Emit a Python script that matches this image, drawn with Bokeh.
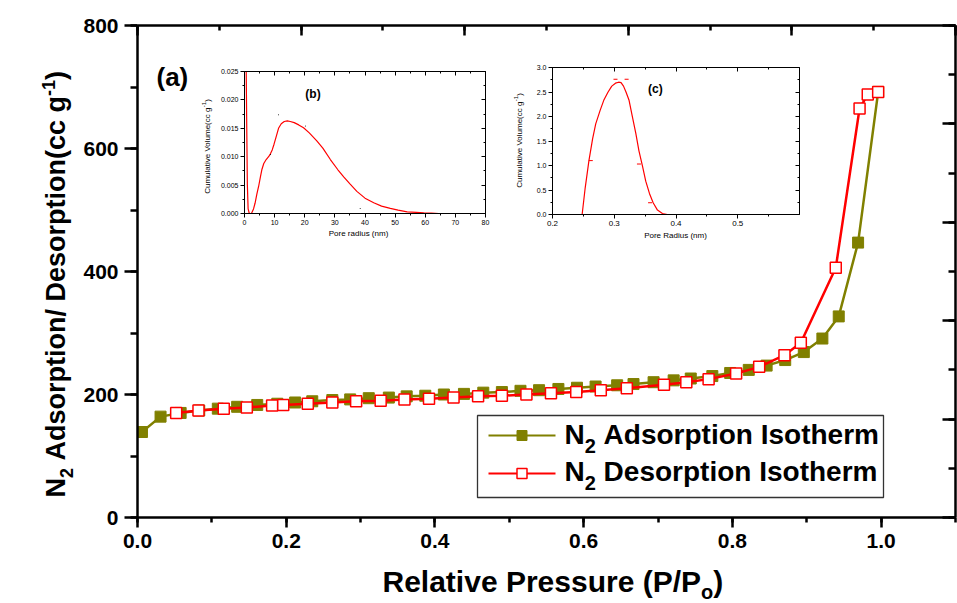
from bokeh.plotting import figure
from bokeh.models import (LinearAxis, SingleIntervalTicker, Range1d, PrintfTickFormatter)
from bokeh.embed import file_html
from bokeh.resources import INLINE
from bokeh.core.properties import value

# ---------------- data ----------------
ads_pressure = [0.006, 0.031, 0.058, 0.083, 0.108, 0.134, 0.161, 0.188, 0.212, 0.235,
                0.262, 0.286, 0.311, 0.338, 0.362, 0.387, 0.412, 0.439, 0.465, 0.490,
                0.515, 0.540, 0.566, 0.591, 0.616, 0.645, 0.667, 0.694, 0.721, 0.744,
                0.773, 0.797, 0.822, 0.846, 0.871, 0.896, 0.921, 0.943, 0.969, 0.996]
ads_volume = [139, 164, 170, 174, 177, 180, 183, 185, 187, 189,
              191, 192, 194, 195, 197, 198, 200, 201, 203, 204,
              206, 207, 209, 211, 213, 215, 217, 220, 223, 226,
              230, 235, 240, 247, 256, 269, 291, 327, 447, 692]

des_pressure = [0.052, 0.082, 0.116, 0.147, 0.181, 0.196, 0.229, 0.262, 0.294, 0.327,
                0.359, 0.392, 0.425, 0.458, 0.490, 0.523, 0.556, 0.590, 0.623, 0.658,
                0.708, 0.738, 0.768, 0.805, 0.836, 0.870, 0.892, 0.939, 0.971, 0.982, 0.996]
des_volume = [170, 174, 177, 179, 182, 183, 185, 187, 189, 190,
              192, 193, 195, 197, 198, 200, 202, 204, 207, 210,
              216, 220, 225, 234, 245, 264, 284, 406, 665, 688, 692]

# inset (b): pore size distribution, radius in nm
b_radius = [0.55, 0.75, 0.95, 1.2, 1.6, 2.3, 3.0, 3.5, 4.1, 4.7, 5.3, 5.8, 6.4, 7.2,
            8.0, 8.6, 9.2, 9.8, 10.5, 11.3, 12.2, 13.2, 14.2, 15.2, 16.5, 18.0, 19.6,
            21.5, 24.0, 26.0, 28.5, 31.0, 33.0, 35.0, 37.3, 40.0, 42.9, 45.5, 48.4,
            51.0, 54.0, 57.0, 59.5, 62.0, 64.5]
b_volume = [0.0262, 0.0150, 0.0050, 0.0008, 0.0000, 0.0000, 0.0008, 0.0018, 0.0034,
            0.0048, 0.0065, 0.0078, 0.0088, 0.0095, 0.0100, 0.0105, 0.0112, 0.0122,
            0.0135, 0.0150, 0.0158, 0.0162, 0.0163, 0.0162, 0.0160, 0.0156, 0.0151,
            0.0142, 0.0128, 0.0115, 0.0095, 0.0077, 0.0064, 0.0052, 0.0039, 0.0027,
            0.0019, 0.0013, 0.0009, 0.0006, 0.0003, 0.0002, 0.0001, 0.00005, 0.0]
b_pts_radius = [8.6, 11.3, 20.2, 38.4]
b_pts_volume = [0.0104, 0.0174, 0.0154, 0.0009]

# inset (c): micropore distribution, radius in nm
c_radius = [0.248, 0.253, 0.259, 0.265, 0.270, 0.277, 0.283, 0.290, 0.296, 0.302,
            0.307, 0.311, 0.315, 0.319, 0.324, 0.329, 0.335, 0.340, 0.346, 0.351,
            0.357, 0.363, 0.370, 0.378, 0.386, 0.400, 0.450, 0.500]
c_volume = [0.0, 0.55, 1.10, 1.55, 1.85, 2.12, 2.33, 2.50, 2.62, 2.68,
            2.70, 2.69, 2.62, 2.50, 2.33, 2.02, 1.65, 1.30, 0.97, 0.68,
            0.43, 0.24, 0.09, 0.02, 0.0, 0.0, 0.0, 0.0]
c_pts_radius = [0.262, 0.302, 0.320, 0.340, 0.358]
c_pts_volume = [1.10, 2.76, 2.76, 1.03, 0.24]

# texts (piece, font size px, baseline shift px: + = subscript)
x_title = [("Relative Pressure (P/P", 30, 0), ("o", 20, 7), (")", 30, 0)]
y_title = [("N", 27, 0), ("2", 18, 7), (" Adsorption/ Desorption(cc g", 27, 0),
           ("-1", 18, -11), (")", 27, 0)]
leg_ads = [("N", 28, 0), ("2", 20, 8), (" Adsorption Isotherm", 28, 0)]
leg_des = [("N", 28, 0), ("2", 20, 8), (" Desorption Isotherm", 28, 0)]
panel_a = [("(a)", 26, 0)]
inset_ylabel = [("Cumulative Volume(cc g", 8, 0), ("-1", 6, -4), (")", 8, 0)]
b_xlabel = [("Pore radius (nm)", 8, 0)]
c_xlabel = [("Pore Radius (nm)", 8, 0)]

FONT = "Liberation Sans"
OLIVE = "#808000"
RED = "#ff0000"
BASE_K = 0.38   # the svg text sits this fraction of its size below the given baseline

# ---------------- geometry of the main frame (pixels) ----------------
FL, FT, FW, FH = 137, 25, 818, 492
X0, X1, Y0, Y1 = 0.0, 1.1, 0.0, 800.0


def dx(px):
    return X0 + (px - FL) / FW * (X1 - X0)


def dy(py):
    return Y0 + (FT + FH - py) / FH * (Y1 - Y0)


WB = {' ': 278, '(': 333, ')': 333, '/': 278, '-': 333, '.': 278, 'A': 722, 'D': 722,
      'I': 278, 'N': 722, 'P': 667, 'R': 722, 'a': 556, 'c': 556, 'd': 611, 'e': 556,
      'g': 611, 'h': 611, 'i': 278, 'l': 278, 'm': 889, 'n': 611, 'o': 611, 'p': 611,
      'r': 389, 's': 556, 't': 333, 'u': 611, 'v': 556}
WR = {' ': 278, '(': 333, ')': 333, '-': 333, 'C': 722, 'V': 667, 'P': 667, 'R': 722,
      'a': 556, 'c': 500, 'd': 556, 'e': 556, 'g': 556, 'i': 222, 'l': 222, 'm': 833,
      'n': 556, 'o': 556, 'r': 333, 's': 500, 't': 278, 'u': 556, 'v': 500}


def tw(s, size, bold=True):
    table = WB if bold else WR
    return sum(table.get(c, 556) for c in s) * size / 1000.0


def total_w(pieces, bold=True):
    return sum(tw(t, s, bold) for t, s, _ in pieces)


def style_axis(ax, lw, maj_out, maj_in, min_out, min_in, size=None, bold=True, standoff=6):
    ax.axis_line_width = lw
    ax.axis_line_color = "black"
    ax.major_tick_line_width = lw
    ax.minor_tick_line_width = lw
    ax.major_tick_line_color = "black"
    ax.minor_tick_line_color = "black"
    ax.major_tick_out = maj_out
    ax.major_tick_in = maj_in
    ax.minor_tick_out = min_out
    ax.minor_tick_in = min_in
    if size is None:
        ax.major_label_text_font_size = "0px"
        ax.major_label_text_color = None
        ax.major_label_standoff = 0
    else:
        ax.major_label_text_font = FONT
        ax.major_label_text_font_size = size
        ax.major_label_text_font_style = "bold" if bold else "normal"
        ax.major_label_text_color = "black"
        ax.major_label_standoff = standoff


# ---------------- main figure ----------------
p = figure(width=957, height=603, x_range=Range1d(X0, X1), y_range=Range1d(Y0, Y1),
           output_backend="svg", toolbar_location=None,
           min_border_left=FL, min_border_right=957 - FL - FW, min_border_top=FT,
           min_border_bottom=603 - FT - FH)
p.grid.visible = False
p.outline_line_color = None
p.background_fill_color = "white"
p.border_fill_color = "white"

xa = p.xaxis[0]
xa.ticker = SingleIntervalTicker(interval=0.2, num_minor_ticks=2)
xa.formatter = PrintfTickFormatter(format="%.1f")
style_axis(xa, 2.5, 10, 0, 5, 0, "21px", standoff=6)

ya = p.yaxis[0]
ya.ticker = SingleIntervalTicker(interval=200, num_minor_ticks=2)
ya.formatter = PrintfTickFormatter(format="%d")
style_axis(ya, 2.5, 13, 0, 7, 0, "21px", standoff=6)

top = LinearAxis(ticker=SingleIntervalTicker(interval=0.22, num_minor_ticks=2))
style_axis(top, 2.5, 0, 10, 0, 5)
p.add_layout(top, "above")
right = LinearAxis(ticker=SingleIntervalTicker(interval=160, num_minor_ticks=2))
style_axis(right, 2.5, 0, 13, 0, 7)
p.add_layout(right, "right")

p.line(ads_pressure, ads_volume, line_color=OLIVE, line_width=2.5)
p.scatter(ads_pressure, ads_volume, marker="square", size=11,
          fill_color=OLIVE, line_color=OLIVE)
p.line(des_pressure, des_volume, line_color=RED, line_width=2.5)
p.scatter(des_pressure, des_volume, marker="square", size=11,
          fill_color="white", line_color=RED, line_width=1.5)

# legend box and samples (text goes in the overlay)
p.quad(left=[dx(477)], right=[dx(883)], top=[dy(415)], bottom=[dy(497)],
       fill_color="white", line_color="#333333", line_width=1.3)
leg_y = {"ads": 435, "des": 473}
p.line([dx(488), dx(555)], [dy(leg_y["ads"])] * 2, line_color=OLIVE, line_width=2)
p.scatter([dx(521.5)], [dy(leg_y["ads"])], marker="square", size=10,
          fill_color=OLIVE, line_color=OLIVE)
p.line([dx(488), dx(555)], [dy(leg_y["des"])] * 2, line_color=RED, line_width=2)
p.scatter([dx(521.5)], [dy(leg_y["des"])], marker="square", size=10,
          fill_color="white", line_color=RED, line_width=1.5)
p.styles = {"position": "absolute", "left": "0px", "top": "0px"}

# ---------------- inset (b) ----------------
pb = figure(width=54 + 241 + 10, height=21 + 142 + 32, x_range=Range1d(0, 80),
            y_range=Range1d(0, 0.025), output_backend="svg", toolbar_location=None,
            min_border_left=54, min_border_top=21, min_border_bottom=32, min_border_right=10)
pb.grid.visible = False
pb.outline_line_color = None
pb.background_fill_color = "white"
pb.border_fill_alpha = 0.0
bxa = pb.xaxis[0]
bxa.ticker = SingleIntervalTicker(interval=10, num_minor_ticks=2)
bxa.formatter = PrintfTickFormatter(format="%d")
style_axis(bxa, 1, 4, 0, 2, 0, "7px", bold=False, standoff=2)
bya = pb.yaxis[0]
bya.ticker = SingleIntervalTicker(interval=0.005, num_minor_ticks=2)
bya.formatter = PrintfTickFormatter(format="%.3f")
style_axis(bya, 1, 4, 0, 2, 0, "7px", bold=False, standoff=2)
for loc, tick in (("above", SingleIntervalTicker(interval=10, num_minor_ticks=2)),
                  ("right", SingleIntervalTicker(interval=0.005, num_minor_ticks=2))):
    a = LinearAxis(ticker=tick)
    style_axis(a, 1, 0, 4, 0, 2)
    pb.add_layout(a, loc)
pb.line(b_radius, b_volume, line_color=RED, line_width=1.2)
pb.scatter(b_pts_radius, b_pts_volume, marker="dot", size=4,
           line_color="black", fill_color="black")
pb.text(x=[20.2], y=[0.0211], text=["(b)"], text_font=value(FONT),
        text_font_style=value("bold"), text_font_size=value("12px"),
        text_baseline=value("alphabetic"))
pb.styles = {"position": "absolute", "left": "190px", "top": "50px"}

# ---------------- inset (c) ----------------
pc = figure(width=52 + 247 + 10, height=17 + 147 + 30, x_range=Range1d(0.2, 0.6),
            y_range=Range1d(0, 3.0), output_backend="svg", toolbar_location=None,
            min_border_left=52, min_border_top=17, min_border_bottom=30, min_border_right=10)
pc.grid.visible = False
pc.outline_line_color = None
pc.background_fill_color = "white"
pc.border_fill_alpha = 0.0
cxa = pc.xaxis[0]
cxa.ticker = SingleIntervalTicker(interval=0.1, num_minor_ticks=2)
cxa.formatter = PrintfTickFormatter(format="%.1f")
style_axis(cxa, 1, 4, 0, 2, 0, "8px", bold=False, standoff=2)
cya = pc.yaxis[0]
cya.ticker = SingleIntervalTicker(interval=0.5, num_minor_ticks=2)
cya.formatter = PrintfTickFormatter(format="%.1f")
style_axis(cya, 1, 4, 0, 2, 0, "7px", bold=False, standoff=2)
for loc, tick in (("above", SingleIntervalTicker(interval=0.1, num_minor_ticks=2)),
                  ("right", SingleIntervalTicker(interval=0.5, num_minor_ticks=2))):
    a = LinearAxis(ticker=tick)
    style_axis(a, 1, 0, 4, 0, 2)
    pc.add_layout(a, loc)
pc.line(c_radius, c_volume, line_color=RED, line_width=1.2)
pc.scatter(c_pts_radius, c_pts_volume, marker="dash", size=4, line_color=RED)
pc.text(x=[0.3546], y=[2.56], text=["(c)"], text_font=value(FONT),
        text_font_style=value("bold"), text_font_size=value("12px"),
        text_baseline=value("alphabetic"))
pc.styles = {"position": "absolute", "left": "500px", "top": "50px"}

# ---------------- text overlay (pixel coordinates, y downwards) ----------------
ov = figure(title=None, width=957, height=603, x_range=Range1d(0, 957),
            y_range=Range1d(603, 0), output_backend="svg", toolbar_location=None,
            min_border=0, x_axis_location=None, y_axis_location=None)
ov.grid.visible = False
ov.outline_line_color = None
ov.background_fill_alpha = 0.0
ov.border_fill_alpha = 0.0


def rich(pieces, start, base, vertical=False, bold=True):
    pos = start
    for text, size, shift in pieces:
        t = text.lstrip(" ")
        pos_adj = tw(text[:len(text) - len(t)], size, bold)
        pos = pos - pos_adj if vertical else pos + pos_adj
        b = base + shift - BASE_K * size
        common = dict(text_font=value(FONT),
                      text_font_style=value("bold" if bold else "normal"),
                      text_font_size=value(f"{size}px"),
                      text_baseline=value("alphabetic"),
                      text_align=value("left"), text_color="black")
        if vertical:
            ov.text(x=[b], y=[pos], text=[t], angle=1.5707963267948966, **common)
            pos -= tw(t, size, bold)
        else:
            ov.text(x=[pos], y=[b], text=[t], **common)
            pos += tw(t, size, bold)


rich(x_title, 382, 592)
rich(y_title, 497, 66, vertical=True)
rich(leg_ads, 564, 445)
rich(leg_des, 564, 482)
rich(panel_a, 156, 86)
# inset axis titles
ylw = total_w(inset_ylabel, bold=False)
rich(inset_ylabel, 146 + ylw / 2, 210, vertical=True, bold=False)
rich(inset_ylabel, 140 + ylw / 2, 522, vertical=True, bold=False)
rich(b_xlabel, 358 - total_w(b_xlabel, bold=False) / 2, 236, bold=False)
rich(c_xlabel, 675 - total_w(c_xlabel, bold=False) / 2, 238, bold=False)
ov.styles = {"position": "absolute", "left": "0px", "top": "0px"}

with open("out.html", "w") as f:
    f.write(file_html([p, pb, pc, ov], INLINE))
